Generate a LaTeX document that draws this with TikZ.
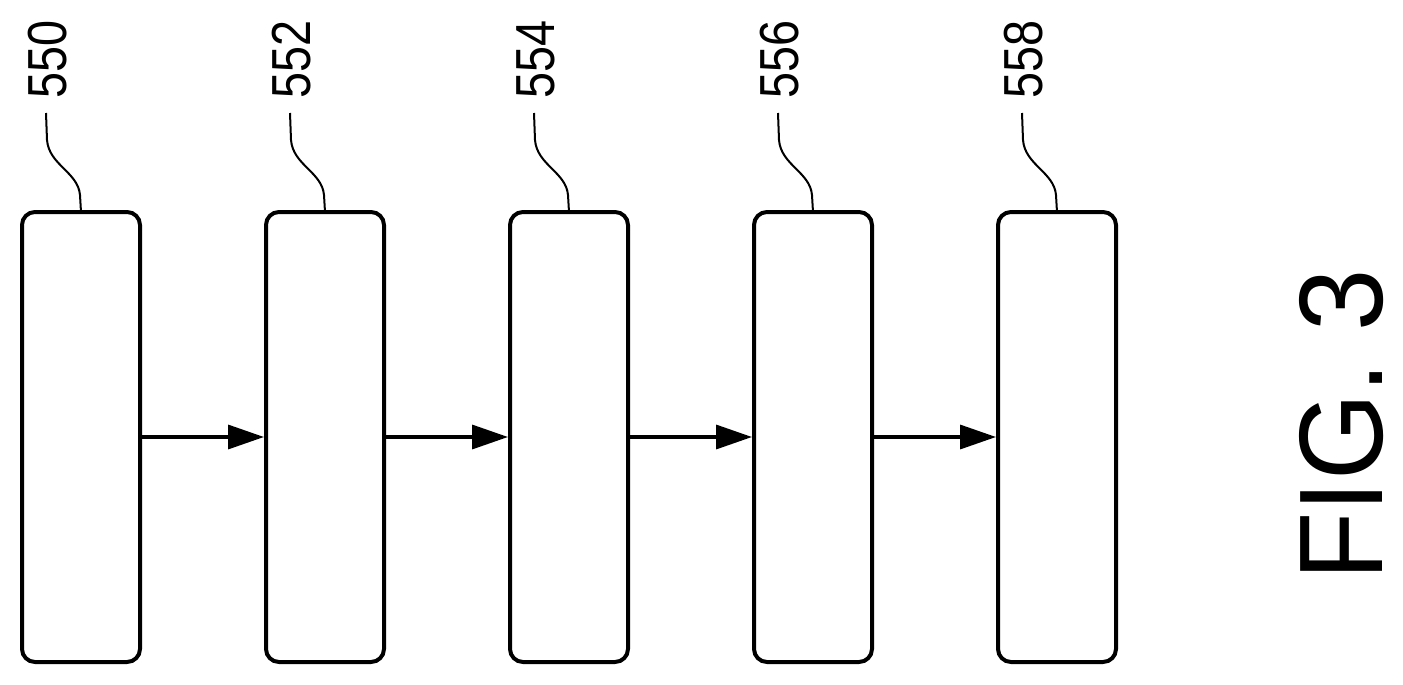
\documentclass[tikz,border=0pt]{standalone}
\usepackage{fontspec}
\setmainfont{Liberation Sans}
\usetikzlibrary{arrows.meta}
\begin{document}
\begin{tikzpicture}[x=1pt,y=-1pt,
  blk/.style={draw,line width=4pt,rounded corners=13pt,minimum width=118pt,minimum height=450pt,inner sep=0pt},
  conn/.style={line width=3.5pt,-{Triangle[length=36pt,width=24pt]}},
  lead/.style={line width=2pt},
  lbl/.style={inner sep=0pt,font=\fontsize{55}{55}\selectfont}]
\useasboundingbox (0,0) rectangle (1403,685);
\foreach \i/\t in {0/550,1/552,2/554,3/556,4/558}{
  \pgfmathsetmacro{\xo}{244*\i}
  \node[blk] (b\i) at (81+\xo,437) {};
  \node[lbl] (l\i) at (47.5+\xo,59) {\rotatebox{90}{\scalebox{0.85}[1]{\t}}};
  \coordinate (s\i) at (46+\xo,113);
  \coordinate (c\i) at (81+\xo,212);
  \draw[lead] (s\i) -- (47+\xo,140) .. controls (49+\xo,165) and (78+\xo,172) .. (80+\xo,195) -- (c\i);
}
\foreach \a/\b in {0/1,1/2,2/3,3/4}{
  \draw[conn] (b\a.east) -- (b\b.west);
}
\node[inner sep=0pt,font=\fontsize{119}{119}\selectfont] (fig) at (1342,425) {\rotatebox{90}{\scalebox{0.94}[1]{FIG. 3}}};
\end{tikzpicture}
\end{document}
